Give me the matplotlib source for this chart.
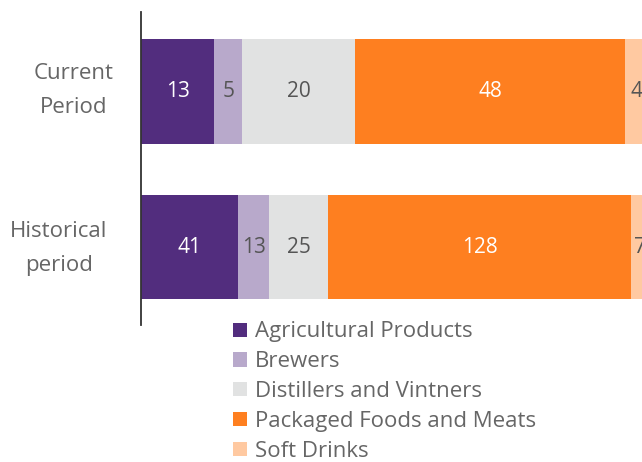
import matplotlib
matplotlib.use("Agg")
import matplotlib.pyplot as plt
from matplotlib.patches import Patch
import numpy as np

plt.rcParams['font.family'] = ['Open Sans', 'DejaVu Sans']

periods = ["Current\nPeriod", "Historical\nperiod"]
segments = ["Agricultural Products", "Brewers", "Distillers and Vintners",
            "Packaged Foods and Meats", "Soft Drinks"]
current_counts = [13, 5, 20, 48, 4]
historical_counts = [41, 13, 25, 128, 7]
colors = ["#522d7e", "#b8a9cb", "#e1e2e2", "#fe7f20", "#ffc9a1"]
label_colors = ["white", "#555555", "#555555", "white", "#555555"]

counts = np.array([current_counts, historical_counts], dtype=float)
shares = counts / counts.sum(axis=1, keepdims=True) * 100

fig = plt.figure(figsize=(6.42, 4.62), dpi=100)
ax = fig.add_axes([141 / 642, 1 - 325 / 462, 507 / 642, 313 / 462])

ypos = [1, 0]
left = np.zeros(2)
for j, name in enumerate(segments):
    ax.barh(ypos, shares[:, j], left=left, height=0.67, color=colors[j],
            edgecolor="none", label=name)
    for i in range(2):
        ax.text(left[i] + shares[i, j] / 2, ypos[i], f"{int(counts[i, j])}",
                ha="center", va="center", fontsize=15,
                color=label_colors[j])
    left += shares[:, j]

ax.set_xlim(0, 100)
ax.set_ylim(-0.5, 1.51)
ax.set_yticks([])
ax.set_xticks([])

# period names, centred as two-line blocks left of the axis line
label_x = [-0.132, -0.162]
label_dy = [0.007, -0.009]
for i, name in enumerate(periods):
    ax.text(label_x[i], ypos[i] + label_dy[i], name,
            transform=ax.get_yaxis_transform(), ha="center", va="center",
            multialignment="center", fontsize=16, color="#666666",
            linespacing=1.82)

for s in ["top", "right", "bottom"]:
    ax.spines[s].set_visible(False)
ax.spines["left"].set_color("#333333")
ax.spines["left"].set_linewidth(1.3)

handles = [Patch(facecolor=c, edgecolor="none") for c in colors]
fig.legend(handles, segments, loc="upper left",
           bbox_to_anchor=(229 / 642, 1 - 317 / 462), frameon=False,
           fontsize=16, labelcolor="#666666", handlelength=0.6,
           handleheight=0.6, handletextpad=0.38, labelspacing=0.40,
           borderpad=0.2, borderaxespad=0)

fig.savefig("out.png", dpi=100)
